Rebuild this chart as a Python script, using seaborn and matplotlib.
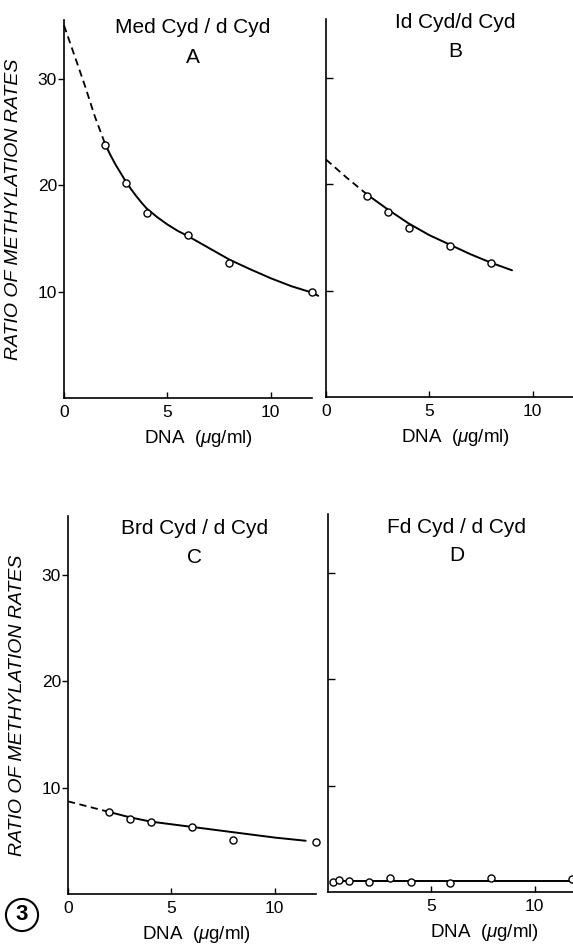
import matplotlib
matplotlib.use("Agg")
import matplotlib.pyplot as plt
import seaborn as sns

# panel A: MedCyd / dCyd
a_x = [2, 3, 4, 6, 8, 12]
a_y = [23.8, 20.2, 17.4, 15.3, 12.7, 10.0]
a_fit_x = [2, 2.25, 2.5, 2.75, 3, 3.25, 3.5, 3.75, 4, 4.5, 5, 5.5, 6, 7, 8, 9, 10, 11, 12, 12.3]
a_fit_y = [23.8, 22.8, 21.9, 21.1, 20.3, 19.6, 18.95, 18.35, 17.8, 17.0, 16.3, 15.7, 15.2,
           14.1, 13.0, 12.1, 11.25, 10.5, 9.9, 9.6]
a_ext_x = [0, 0.5, 1.0, 1.5, 2.0]
a_ext_y = [35.0, 32.2, 29.4, 26.4, 23.8]

# panel B: IdCyd / dCyd
b_x = [2, 3, 4, 6, 8]
b_y = [18.9, 17.4, 15.9, 14.2, 12.6]
b_fit_x = [2, 3, 4, 5, 6, 7, 8, 9]
b_fit_y = [19.0, 17.6, 16.3, 15.2, 14.3, 13.4, 12.6, 11.9]
b_ext_x = [0, 1, 2]
b_ext_y = [22.3, 20.6, 19.0]

# panel C: BrdCyd / dCyd
c_x = [2, 3, 4, 6, 8, 12]
c_y = [7.7, 7.0, 6.8, 6.3, 5.1, 4.9]
c_fit_x = [2, 3, 4, 6, 8, 10, 11.5]
c_fit_y = [7.7, 7.2, 6.8, 6.3, 5.8, 5.3, 5.0]
c_ext_x = [0, 1, 2]
c_ext_y = [8.7, 8.2, 7.7]

# panel D: FdCyd / dCyd
d_x = [0.25, 0.55, 1.0, 2.0, 3.0, 4.0, 5.9, 7.9, 11.8]
d_y = [0.95, 1.14, 1.05, 0.95, 1.27, 0.9, 0.86, 1.3, 1.2]
d_fit_x = [0.25, 12]
d_fit_y = [1.0, 1.0]

titles = ["Med Cyd / d Cyd", "Id Cyd/d Cyd", "Brd Cyd / d Cyd", "Fd Cyd / d Cyd"]
letters = ["A", "B", "C", "D"]
ylabel = "RATIO OF METHYLATION RATES"
xlabel = "DNA  ($\\mu$g/ml)"

sns.set_style("ticks")
plt.rcParams["font.family"] = ["Liberation Sans", "DejaVu Sans"]
plt.rcParams["mathtext.fontset"] = "custom"
plt.rcParams["mathtext.it"] = "Liberation Sans:italic"
plt.rcParams["mathtext.rm"] = "Liberation Sans"
plt.rcParams["text.color"] = "black"
plt.rcParams["axes.labelcolor"] = "black"
plt.rcParams["xtick.color"] = "black"
plt.rcParams["ytick.color"] = "black"

W, H = 573, 944
fig = plt.figure(figsize=(W / 100, H / 100), dpi=100)

def box(left, bottom, width=248, height=378):
    return [left / W, (H - bottom) / H, width / W, height / H]

axA = fig.add_axes(box(64, 398))
axB = fig.add_axes(box(326, 397))
axC = fig.add_axes(box(68, 894))
axD = fig.add_axes(box(328, 892))

panels = [
    (axA, a_x, a_y, a_fit_x, a_fit_y, a_ext_x, a_ext_y),
    (axB, b_x, b_y, b_fit_x, b_fit_y, b_ext_x, b_ext_y),
    (axC, c_x, c_y, c_fit_x, c_fit_y, c_ext_x, c_ext_y),
    (axD, d_x, d_y, d_fit_x, d_fit_y, None, None),
]

title_pos = [(0.52, 0.98, 0.90), (0.52, 0.99, 0.913), (0.51, 0.968, 0.889), (0.52, 0.963, 0.89)]
xlab_x = [0.544, 0.524, 0.52, 0.633]

for i, (ax, px, py, fx, fy, ex, ey) in enumerate(panels):
    sns.lineplot(x=fx, y=fy, ax=ax, color="black", lw=1.4, sort=False,
                 estimator=None, clip_on=False)
    if ex is not None:
        sns.lineplot(x=ex, y=ey, ax=ax, color="black", lw=1.3, sort=False,
                     estimator=None, linestyle=(0, (4, 2.5)), clip_on=False)
    sns.scatterplot(x=px, y=py, ax=ax, marker="o", s=26, color="white",
                    edgecolor="black", linewidth=1.0, zorder=3, clip_on=False)

    ax.set_xlim(0, 12)
    ax.set_ylim(0, 35.5)
    sns.despine(ax=ax)
    for s in ["left", "bottom"]:
        ax.spines[s].set_linewidth(1.2)
        ax.spines[s].set_color("black")

    ax.set_yticks([10, 20, 30])
    if i in (0, 2):
        ax.tick_params(axis="y", direction="out", length=4, width=1, labelsize=12.5, pad=1)
        ax.set_ylabel(ylabel, fontsize=14, style="italic")
        ax.yaxis.set_label_coords(-0.17, 0.5)
    else:
        ax.tick_params(axis="y", direction="in", length=5, width=1, labelleft=False)
        ax.set_ylabel("")

    if i == 3:
        ax.set_xticks([5, 10])
    else:
        ax.set_xticks([0, 5, 10])
    ax.tick_params(axis="x", direction="in", length=4, width=1, labelsize=12.5, pad=5)

    ax.set_xlabel(xlabel, fontsize=13.5)
    ax.xaxis.set_label_coords(xlab_x[i], -0.08)

    tx, ty1, ty2 = title_pos[i]
    ax.text(tx, ty1, titles[i], transform=ax.transAxes, ha="center", va="center", fontsize=15)
    ax.text(tx, ty2, letters[i], transform=ax.transAxes, ha="center", va="center", fontsize=15)

fig.text(22 / W, 1 - 915 / H, "3", fontsize=16, fontweight="bold", ha="center", va="center",
         bbox=dict(boxstyle="circle,pad=0.25", fc="white", ec="black", lw=1.5))

fig.savefig("out.png", dpi=100)
plt.close(fig)
